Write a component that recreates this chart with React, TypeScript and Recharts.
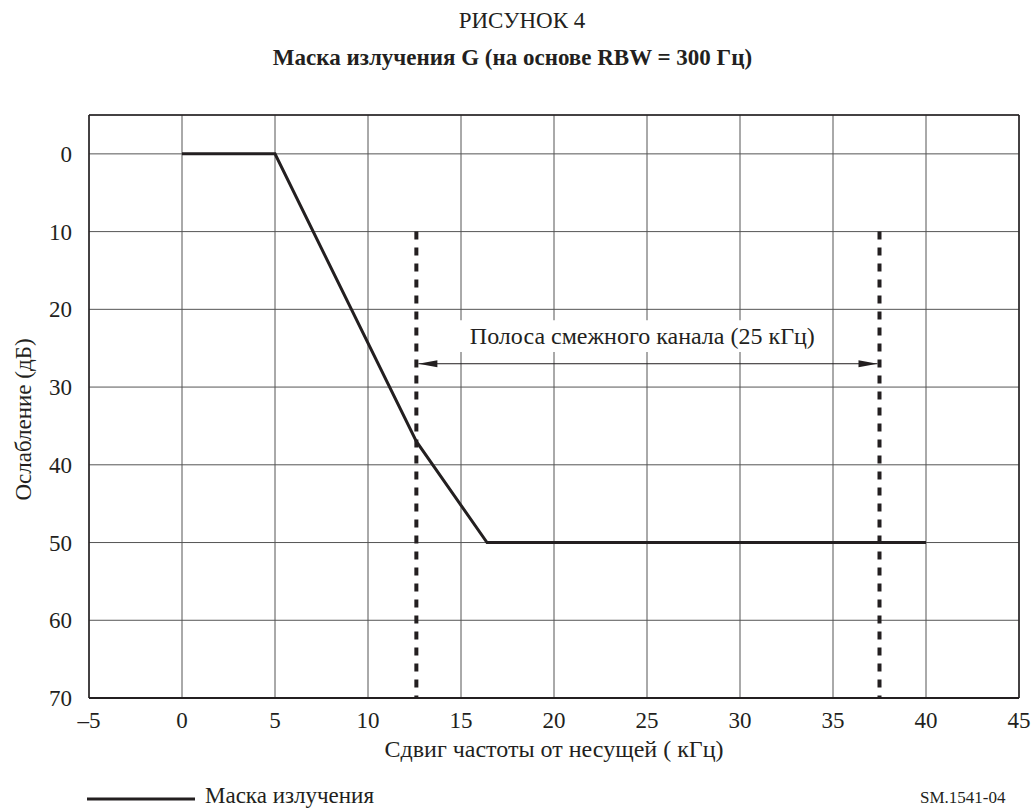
import React from 'react';
import {
  ComposedChart,
  Line,
  XAxis,
  YAxis,
  CartesianGrid,
  ReferenceLine,
  ReferenceArea,
  Legend,
} from 'recharts';

// Emission mask G: frequency offset (kHz) vs attenuation (dB)
const maskOffsets = [0, 5, 12.6, 16.4, 40];
const maskAttenuation = [0, 0, 37, 50, 50];

const xTicks = [-5, 0, 5, 10, 15, 20, 25, 30, 35, 40, 45];
const yTicks = [0, 10, 20, 30, 40, 50, 60, 70];

// adjacent channel band limits (kHz) and marker levels (dB)
const bandEdges = [12.6, 37.5];
const bandTop = 10;
const arrowLevel = 27;

const FONT = '"Liberation Serif", "Times New Roman", serif';
const INK = '#231f20';
const textStyle = { fontFamily: FONT, fontSize: 23 };

const maskData = maskOffsets.map((x, i) => ({ x, y: maskAttenuation[i] }));

const fmtTick = (v: number) => (v < 0 ? `–${Math.abs(v)}` : `${v}`);

const XTick = (props: any) => {
  const { x, y, payload } = props;
  return (
    <text x={x} y={y} dy="0.71em" textAnchor="middle" fill={INK} style={textStyle}>
      {fmtTick(payload.value)}
    </text>
  );
};

const YTick = (props: any) => {
  const { x, y, payload } = props;
  return (
    <text x={x} y={y} dy="0.35em" textAnchor="end" fill={INK} style={textStyle}>
      {payload.value}
    </text>
  );
};

const ArrowShape = (props: any) => {
  const { x1, y1, x2 } = props;
  return (
    <g>
      <line x1={x1 + 2} y1={y1} x2={x2 - 2} y2={y1} stroke={INK} strokeWidth={1} />
      <polygon points={`${x1 + 2},${y1} ${x1 + 21},${y1 - 3.5} ${x1 + 21},${y1 + 3.5}`} fill={INK} />
      <polygon points={`${x2 - 2},${y1} ${x2 - 21},${y1 - 3.5} ${x2 - 21},${y1 + 3.5}`} fill={INK} />
    </g>
  );
};

const XLabel = (props: any) => {
  const { viewBox } = props;
  const cx = viewBox.x + viewBox.width / 2;
  return (
    <text x={cx} y={viewBox.y + 59} textAnchor="middle" fill={INK} style={{ fontFamily: FONT, fontSize: 24 }}>
      Сдвиг частоты от несущей ( кГц)
    </text>
  );
};

const YLabel = (props: any) => {
  const { viewBox } = props;
  const cx = viewBox.x - 6;
  const cy = viewBox.y + viewBox.height / 2 + 13;
  return (
    <text
      x={cx}
      y={cy}
      transform={`rotate(-90 ${cx} ${cy})`}
      textAnchor="middle"
      dominantBaseline="central"
      fill={INK}
      style={textStyle}
    >
      Ослабление  (дБ)
    </text>
  );
};

const BandLabel = (props: any) => {
  const { viewBox } = props;
  return (
    <text
      x={viewBox.x + viewBox.width / 2}
      y={viewBox.y + viewBox.height / 2}
      textAnchor="middle"
      dominantBaseline="central"
      fill={INK}
      style={{ fontFamily: FONT, fontSize: 24 }}
    >
      Полоса смежного канала  (25 кГц)
    </text>
  );
};

const MaskLegend = () => (
  <div style={{ display: 'flex', alignItems: 'center', height: 26, fontFamily: FONT, fontSize: 23, color: INK }}>
    <svg width={108} height={6} style={{ marginRight: 10, marginTop: 6 }}>
      <line x1={0} y1={3} x2={108} y2={3} stroke={INK} strokeWidth={3} />
    </svg>
    <span>Маска излучения</span>
  </div>
);

export default function App() {
  return (
    <div
      style={{
        position: 'absolute',
        left: 0,
        top: 0,
        width: 1032,
        height: 810,
        background: '#fff',
        overflow: 'hidden',
        fontFamily: FONT,
        color: INK,
      }}
    >
      <div style={{ position: 'absolute', top: 8, left: 0, width: 1044, textAlign: 'center', fontSize: 23 }}>
        РИСУНОК 4
      </div>
      <div style={{ position: 'absolute', top: 45, left: 0, width: 1025, textAlign: 'center', fontSize: 23, fontWeight: 'bold' }}>
        Маска излучения G (на основе RBW = 300 Гц)
      </div>
      <div style={{ position: 'absolute', top: 788, left: 920, fontSize: 17 }}>SM.1541-04</div>
      <ComposedChart
        width={1032}
        height={810}
        data={maskData}
        margin={{ top: 115, right: 13, bottom: 56, left: 29 }}
        style={{ position: 'absolute', left: 0, top: 0 }}
      >
        <CartesianGrid stroke="#555" strokeWidth={1} horizontal vertical />
        <XAxis
          type="number"
          dataKey="x"
          domain={[-5, 45]}
          ticks={xTicks}
          interval={0}
          height={30}
          tickLine={false}
          axisLine={{ stroke: INK, strokeWidth: 2 }}
          tick={<XTick />}
          tickMargin={8}
          label={<XLabel />}
        />
        <YAxis
          type="number"
          domain={[-5, 70]}
          reversed
          ticks={yTicks}
          interval={0}
          width={60}
          tickLine={false}
          axisLine={{ stroke: INK, strokeWidth: 1.5 }}
          tick={<YTick />}
          tickMargin={11}
          label={<YLabel />}
        />
        <ReferenceLine y={-5} stroke={INK} strokeWidth={1.5} />
        <ReferenceLine x={45} stroke={INK} strokeWidth={1.5} />
        <ReferenceArea
          x1={14.7}
          x2={34.8}
          y1={21.4}
          y2={25.5}
          fill="#fff"
          fillOpacity={1}
          stroke="none"
          label={<BandLabel />}
        />
        {bandEdges.map((b) => (
          <ReferenceLine
            key={b}
            segment={[
              { x: b, y: bandTop },
              { x: b, y: 70 },
            ]}
            stroke={INK}
            strokeWidth={4}
            strokeDasharray="8 8"
          />
        ))}
        <ReferenceLine
          segment={[
            { x: bandEdges[0], y: arrowLevel },
            { x: bandEdges[1], y: arrowLevel },
          ]}
          shape={ArrowShape}
        />
        <Line
          dataKey="y"
          type="linear"
          stroke={INK}
          strokeWidth={3}
          dot={false}
          isAnimationActive={false}
          legendType="line"
        />
        <Legend
          content={<MaskLegend />}
          wrapperStyle={{ position: 'absolute', left: 87, top: 783, width: 400 }}
        />
      </ComposedChart>
    </div>
  );
}
